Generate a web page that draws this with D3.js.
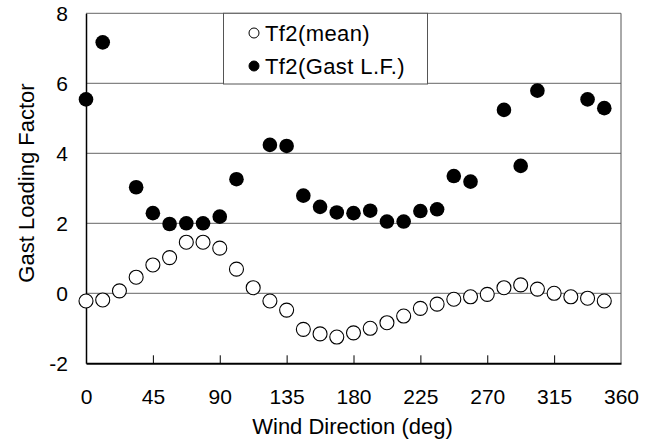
<!DOCTYPE html>
<html>
<head>
  <meta charset="UTF-8">
  <title>Gast Loading Factor</title>
  <style>
    body { margin: 0; background: #fff; }
    svg { display: block; font-family: "Liberation Sans", Arial, sans-serif; }
  </style>
</head>
<body>
<svg></svg>
<script src="https://d3js.org/d3.v7.min.js"></script>
<script>
    let width = 656, height = 440;
    let margin = {top: 13.3, right: 35, bottom: 76.7, left: 86};

    // wind directions (deg)
    var directions = [0, 11.25, 22.5, 33.75, 45, 56.25, 67.5, 78.75, 90, 101.25, 112.5, 123.75,
        135, 146.25, 157.5, 168.75, 180, 191.25, 202.5, 213.75, 225, 236.25, 247.5, 258.75,
        270, 281.25, 292.5, 303.75, 315, 326.25, 337.5, 348.75];

    // Tf2(mean)
    var meanValues = [-0.22, -0.19, 0.07, 0.46, 0.81, 1.02, 1.46, 1.46, 1.29, 0.69, 0.16, -0.22,
        -0.48, -1.03, -1.16, -1.25, -1.13, -1.0, -0.84, -0.65, -0.43, -0.31, -0.17, -0.1,
        -0.03, 0.16, 0.24, 0.12, 0.0, -0.1, -0.14, -0.22];

    // Tf2(Gast L.F.) - null where no point is plotted
    var gastValues = [5.54, 7.17, null, 3.03, 2.29, 1.98, 2.0, 2.0, 2.19, 3.26, null, 4.24,
        4.21, 2.79, 2.47, 2.31, 2.29, 2.36, 2.05, 2.05, 2.35, 2.40, 3.35, 3.19,
        null, 5.24, 3.64, 5.79, null, null, 5.54, 5.29];

    var xTicks = [0, 45, 90, 135, 180, 225, 270, 315, 360];
    var yTicks = [-2, 0, 2, 4, 6, 8];
    var legendLabels = ["Tf2(mean)", "Tf2(Gast L.F.)"];

    let svg = d3.select("svg").attr("width", width).attr("height", height);

    let x = d3.scaleLinear().domain([0, 360]).range([margin.left, width - margin.right]);
    let y = d3.scaleLinear().domain([-2, 8]).range([height - margin.bottom, margin.top]);

    // gridlines
    svg.append("g")
        .selectAll("line")
        .data(yTicks.filter(d => d > -2))
        .enter().append("line")
        .attr("x1", x(0)).attr("x2", x(360))
        .attr("y1", d => y(d)).attr("y2", d => y(d))
        .attr("stroke", "#666").attr("stroke-width", 1);

    // right border
    svg.append("line")
        .attr("x1", x(360)).attr("x2", x(360))
        .attr("y1", y(8)).attr("y2", y(-2))
        .attr("stroke", "#555").attr("stroke-width", 1);

    // x axis (ticks pointing inward)
    let xAxis = svg.append("g")
        .attr("transform", "translate(0," + y(-2) + ")")
        .call(d3.axisBottom(x).tickValues(xTicks).tickSizeInner(-8).tickSizeOuter(0).tickPadding(26));
    xAxis.select(".domain").attr("stroke", "#000").attr("stroke-width", 2);
    xAxis.selectAll(".tick line").attr("stroke", "#000")
        .filter(d => d == 0 || d == 360).remove();
    xAxis.selectAll("text").attr("font-size", 21).attr("fill", "#000")
        .attr("font-family", "Liberation Sans, Arial, sans-serif");

    // y axis (plain hyphen for negatives, like the original)
    let yAxis = svg.append("g")
        .attr("transform", "translate(" + x(0) + ",0)")
        .call(d3.axisLeft(y).tickValues(yTicks).tickFormat(d => String(d)).tickSize(0).tickPadding(18));
    yAxis.select(".domain").attr("stroke", "#000").attr("stroke-width", 1.5);
    yAxis.selectAll("text").attr("font-size", 21).attr("fill", "#000")
        .attr("font-family", "Liberation Sans, Arial, sans-serif");

    // axis titles
    svg.append("text")
        .attr("x", (x(0) + x(360)) / 2 - 1)
        .attr("y", 434)
        .attr("text-anchor", "middle")
        .attr("font-size", 22)
        .text("Wind Direction (deg)");

    svg.append("text")
        .attr("transform", "translate(34," + 183 + ") rotate(-90)")
        .attr("text-anchor", "middle")
        .attr("font-size", 22)
        .text("Gast Loading Factor");

    // data points
    svg.append("g")
        .selectAll("circle")
        .data(directions.map((d, i) => [d, meanValues[i]]))
        .enter().append("circle")
        .attr("cx", d => x(d[0]))
        .attr("cy", d => y(d[1]))
        .attr("r", 7)
        .attr("fill", "#fff")
        .attr("stroke", "#000")
        .attr("stroke-width", 1.1);

    svg.append("g")
        .selectAll("circle")
        .data(directions.map((d, i) => [d, gastValues[i]]).filter(d => d[1] != null))
        .enter().append("circle")
        .attr("cx", d => x(d[0]))
        .attr("cy", d => y(d[1]))
        .attr("r", 7.3)
        .attr("fill", "#000");

    // legend
    let legend = svg.append("g");
    legend.append("rect")
        .attr("x", 223.5).attr("y", y(8))
        .attr("width", 204).attr("height", y(6) - y(8) + 0.7)
        .attr("fill", "#fff").attr("stroke", "#555").attr("stroke-width", 1);

    let items = legend.selectAll("g.item")
        .data(legendLabels)
        .enter().append("g")
        .attr("class", "item")
        .attr("transform", (d, i) => "translate(254," + (33 + i * 33) + ")");

    items.append("circle")
        .attr("r", 5)
        .attr("fill", (d, i) => i == 0 ? "#fff" : "#000")
        .attr("stroke", "#000")
        .attr("stroke-width", 1);

    items.append("text")
        .attr("x", 11)
        .attr("dy", "0.36em")
        .attr("font-size", 22)
        .style("letter-spacing", "0.4px")
        .text(d => d);
</script>
</body>
</html>
